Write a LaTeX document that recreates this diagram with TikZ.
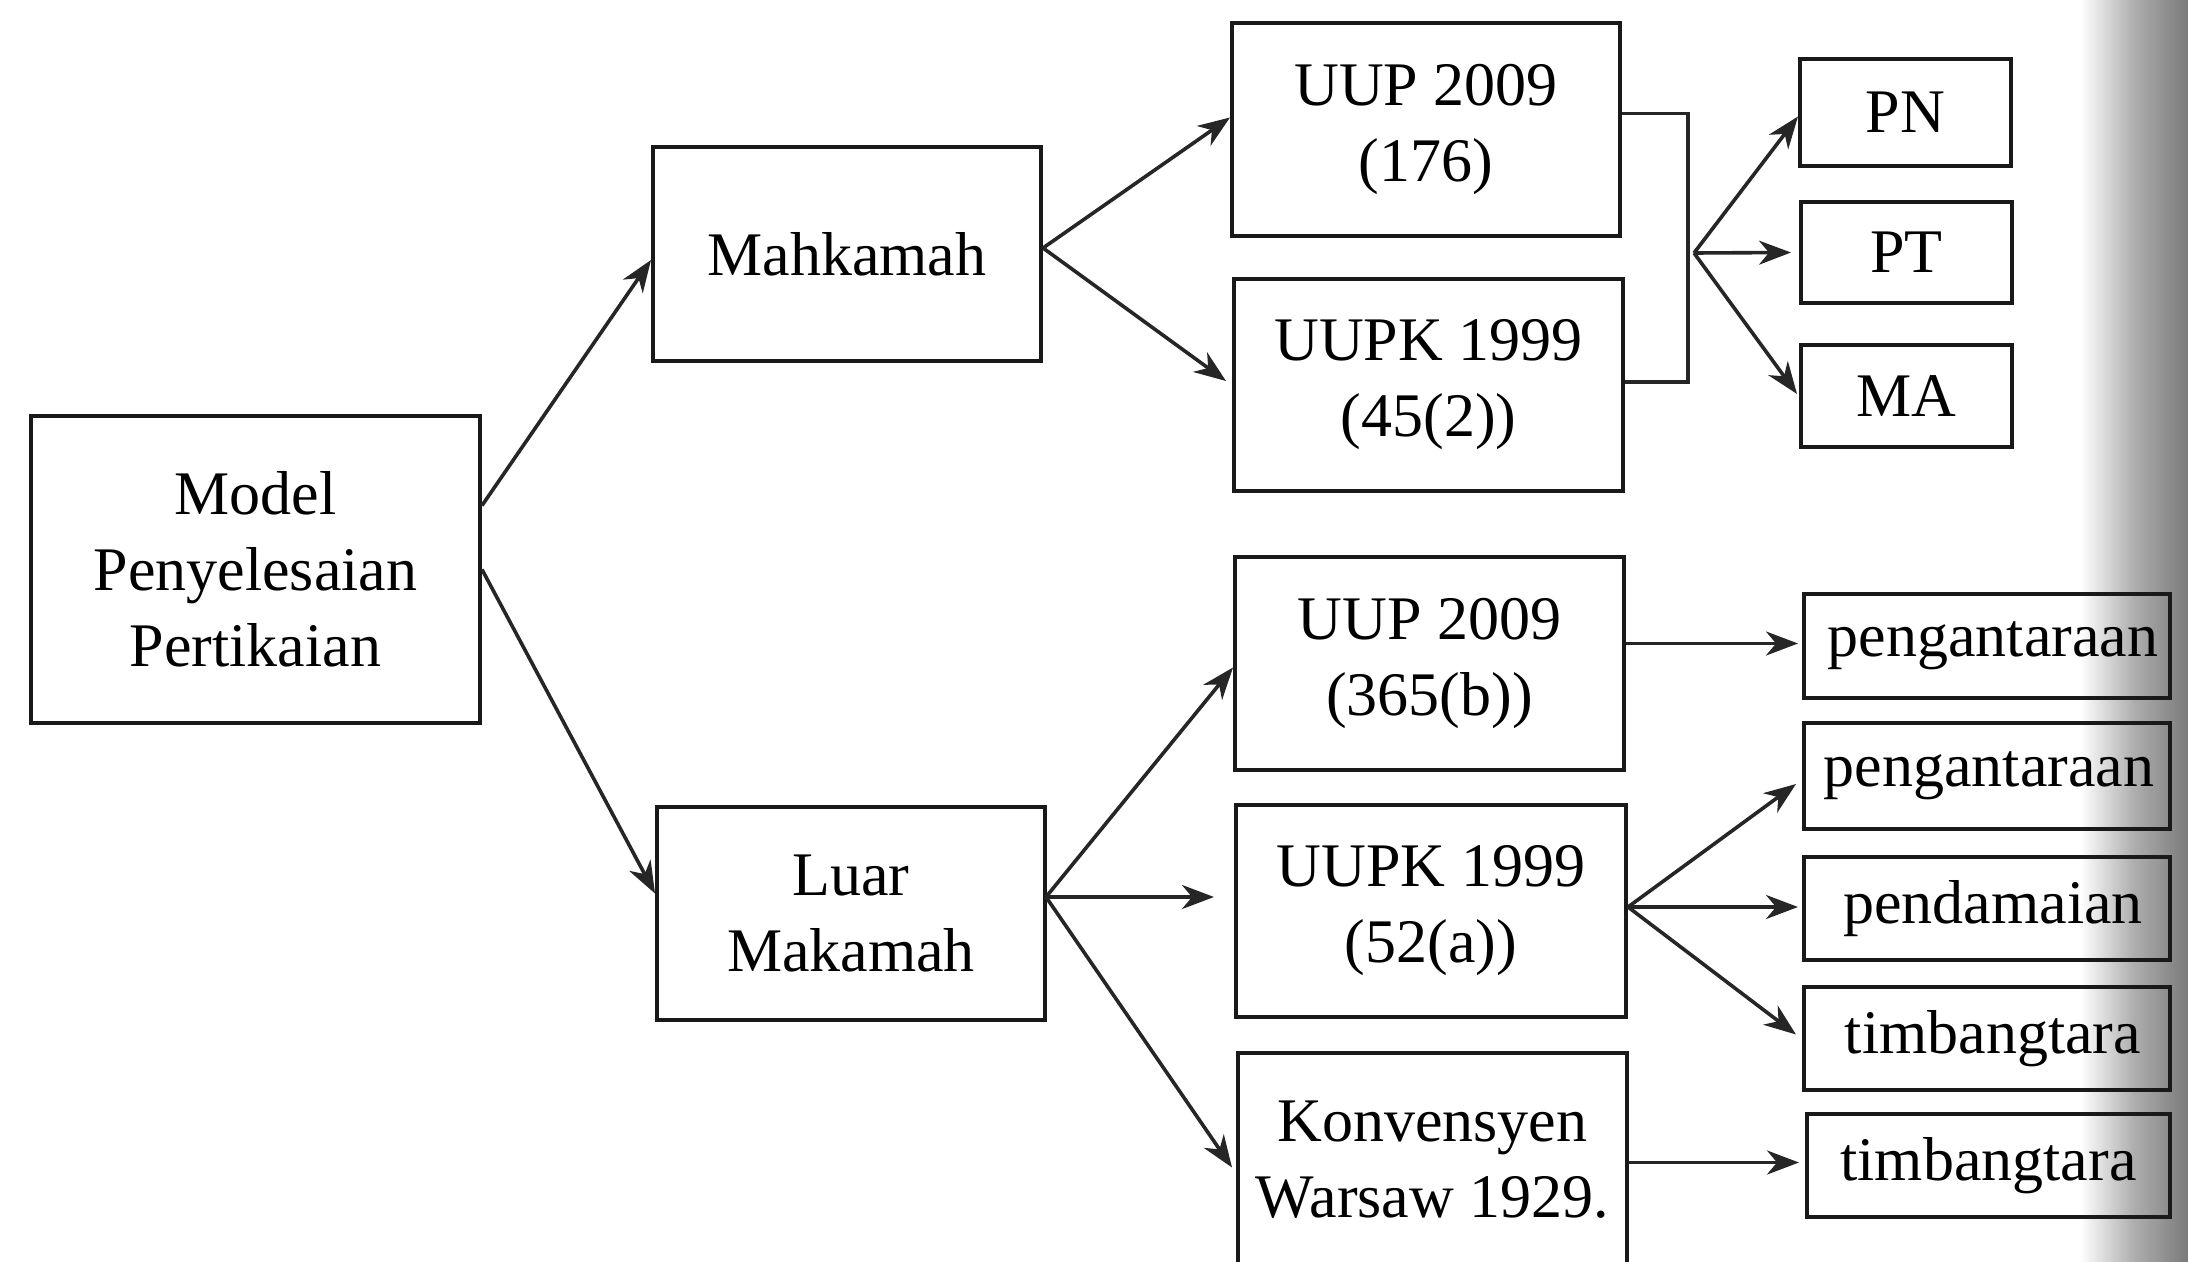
\documentclass[tikz,border=0pt]{standalone}
\usepackage{fontspec}
\setmainfont{Liberation Serif}
\usetikzlibrary{arrows.meta}
\begin{document}
\begin{tikzpicture}[x=0.5pt,y=-0.5pt,
  box/.style={draw=black!90, line width=2pt, align=center, inner sep=0pt,
    font=\fontsize{31pt}{38pt}\selectfont},
  conn/.style={draw=black!85, line width=1.8pt},
  arr/.style={conn, -{Stealth[length=16pt,width=12pt,inset=5pt]}}]
\useasboundingbox (0,0) rectangle (2188,1262);
\clip (0,0) rectangle (2188,1262);
% scan shading at the right edge
\shade[left color=white, right color=black!52, middle color=black!32] (2080,0) rectangle (2188,1262);
% boxes
\node[box, minimum width=224.5pt, minimum height=153.5pt] (model) at (255.5,569.5) {Model\\Penyelesaian\\Pertikaian};
\node[box, minimum width=194pt, minimum height=107pt] (mahk) at (847,254) {Mahkamah};
\node[box, minimum width=194pt, minimum height=106.5pt] (luar) at (851,913.5) {Luar\\Makamah};
\node[box, minimum width=194pt, minimum height=106.5pt] (uup1) at (1426,129.5) {UUP 2009\\(176)};
\node[box, minimum width=194.5pt, minimum height=106pt] (uupk1) at (1428.5,385) {UUPK 1999\\(45(2))};
\node[box, minimum width=105.5pt, minimum height=53.5pt] (pn) at (1905.5,112.5) {PN};
\node[box, minimum width=105.5pt, minimum height=50.5pt] (pt) at (1906.5,252.5) {PT};
\node[box, minimum width=105.5pt, minimum height=51pt] (ma) at (1906.5,396) {MA};
\node[box, minimum width=194.5pt, minimum height=106.5pt] (uup2) at (1429.5,663.5) {UUP 2009\\(365(b))};
\node[box, minimum width=195pt, minimum height=106pt] (uupk2) at (1431,911) {UUPK 1999\\(52(a))};
\node[box, minimum width=194.5pt, minimum height=106.5pt] (konv) at (1432.5,1159.5) {Konvensyen\\Warsaw 1929.};
\node[box, minimum width=183pt, minimum height=52pt] (peng1) at (1987,646) {\hspace*{6pt}pengantaraan};
\node[box, minimum width=183pt, minimum height=53pt] (peng2) at (1987,776) {\hspace*{2pt}pengantaraan};
\node[box, minimum width=183pt, minimum height=51.5pt] (pend) at (1987,908.5) {\hspace*{6pt}pendamaian};
\node[box, minimum width=183pt, minimum height=51.5pt] (timb1) at (1987,1038.5) {\hspace*{6pt}timbangtara};
\node[box, minimum width=181.5pt, minimum height=51.5pt] (timb2) at (1988.5,1165.5) {timbangtara};
% junction points
\coordinate (fork) at (1694,253);
\coordinate (lo) at (1046,897);
\coordinate (bx) at (1688,0);
\coordinate (b1) at ([yshift=8pt]uup1.east);
\coordinate (b2) at ([yshift=1.5pt]uupk1.east);
% connectors
\draw[arr] ([yshift=32pt]model.east) -- ([yshift=-3pt]mahk.west);
\draw[arr] (model.east) -- ([yshift=10pt]luar.west);
\draw[arr] ([yshift=3pt]mahk.east) -- ([yshift=6pt]uup1.west);
\draw[arr] ([yshift=3pt]mahk.east) -- ([yshift=2pt,xshift=-3pt]uupk1.west);
\draw[conn] (b1) -| (bx |- b2) -- (b2);
\draw[arr] (fork) -- ([yshift=-2pt]pn.west);
\draw[arr] (fork) -- ([xshift=-4pt]pt.west);
\draw[arr] (fork) -- ([yshift=1pt,xshift=-1pt]ma.west);
\draw[arr] (lo) -- ([yshift=-2pt]uup2.west);
\draw[arr] (lo) -- ([xshift=-10pt]lo -| uupk2.west);
\draw[arr] (lo) -- ([yshift=-4pt,xshift=-2pt]konv.west);
\draw[arr] ([yshift=10pt]uup2.east) -- ([yshift=10pt,xshift=-2pt]uup2.east -| peng1.west);
\draw[arr] ([yshift=2pt]uupk2.east) -- ([yshift=-4pt,xshift=-3pt]peng2.west);
\draw[arr] ([yshift=2pt]uupk2.east) -- ([yshift=2pt,xshift=-2pt]uupk2.east -| pend.west);
\draw[arr] ([yshift=2pt]uupk2.east) -- ([yshift=2pt,xshift=-3pt]timb1.west);
\draw[arr] ([yshift=-1.5pt]konv.east) -- ([yshift=-1.5pt,xshift=-3pt]konv.east -| timb2.west);
\end{tikzpicture}
\end{document}
